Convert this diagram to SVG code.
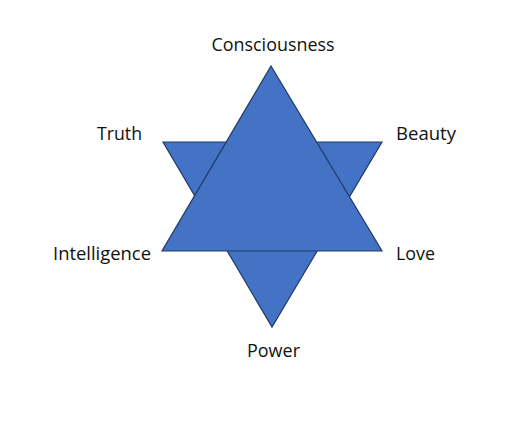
<svg xmlns="http://www.w3.org/2000/svg" width="512" height="440" viewBox="0 0 512 440">
<style>
.tri{fill:#4472C4;stroke:#1F3A66;stroke-width:1.2;stroke-linejoin:miter}
.lbl{font-family:"Open Sans","Liberation Sans",sans-serif;font-size:18px;fill:#111}
</style>
<rect width="512" height="440" fill="#fff"/>
<g id="star">
<polygon id="down" class="tri" points="163,142 382,142 272,327"/>
<polygon id="up" class="tri" points="271,66 382,251 162,251"/>
</g>
<g id="labels">
<g id="consciousness"><text class="lbl" x="273" y="51" text-anchor="middle" textLength="123" lengthAdjust="spacingAndGlyphs">Consciousness</text></g>
<g id="truth"><text class="lbl" x="97" y="140" textLength="45" lengthAdjust="spacingAndGlyphs">Truth</text></g>
<g id="beauty"><text class="lbl" x="396" y="140" textLength="60" lengthAdjust="spacingAndGlyphs">Beauty</text></g>
<g id="intelligence"><text class="lbl" x="53" y="260" textLength="98" lengthAdjust="spacingAndGlyphs">Intelligence</text></g>
<g id="love"><text class="lbl" x="396" y="260" textLength="39" lengthAdjust="spacingAndGlyphs">Love</text></g>
<g id="power"><text class="lbl" x="247" y="357" textLength="53" lengthAdjust="spacingAndGlyphs">Power</text></g>
</g>
</svg>
